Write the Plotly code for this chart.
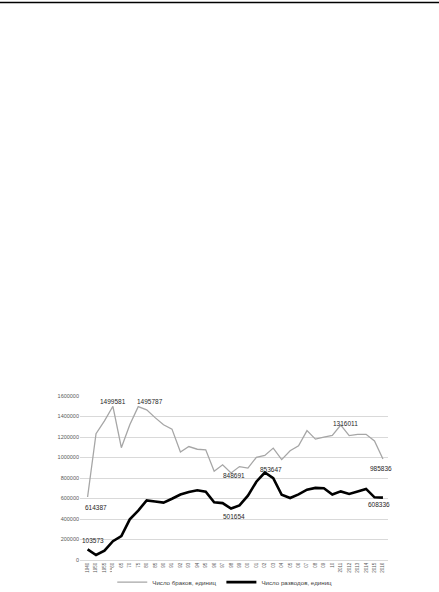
import plotly.graph_objects as go

# Years on the category axis
years = ['1940', '1950', '1955', '1960', '1965', '1970', '1975', '1980', '1985',
         '1990', '1991', '1992', '1993', '1994', '1995', '1996', '1997', '1998',
         '1999', '2000', '2001', '2002', '2003', '2004', '2005', '2006', '2007',
         '2008', '2009', '2010', '2011', '2012', '2013', '2014', '2015', '2016']

# Число браков
marriages = [614387, 1233000, 1357000, 1499581, 1096000, 1319000, 1495787, 1464600,
             1389000, 1319900, 1277200, 1053700, 1106700, 1080600, 1075200, 866700,
             928400, 848691, 911200, 897300, 1001600, 1019800, 1091800, 979700,
             1066400, 1113600, 1262500, 1179000, 1199400, 1215100, 1316011, 1213600,
             1225500, 1226000, 1161100, 985836]

# Число разводов
divorces = [103573, 49000, 91000, 184000, 233000, 396600, 482000, 580700,
            571000, 559900, 597900, 639200, 663300, 680500, 665900, 562400,
            555200, 501654, 532500, 627700, 763500, 853647, 798800, 635800,
            604900, 640800, 685900, 703400, 699400, 639300, 669400, 644100,
            668000, 693700, 611600, 608336]

# labelled points: (year, xshift, yshift)
labels_m = [('1940', 8, -10), ('1960', 0, 5), ('1975', 12, 5),
            ('1998', 3, -2), ('2011', 5, 2), ('2016', -2, -10)]
labels_d = [('1940', 5, 9), ('1998', 3, -8), ('2002', 6, 3), ('2016', -4, -7)]

fig = go.Figure()
fig.add_trace(go.Scatter(x=years, y=marriages, mode='lines',
                         name='Число браков, единиц',
                         line=dict(color='#a6a6a6', width=1.3)))
fig.add_trace(go.Scatter(x=years, y=divorces, mode='lines',
                         name='Число разводов, единиц',
                         line=dict(color='#000000', width=2.6)))

for series, labels in ((marriages, labels_m), (divorces, labels_d)):
    for yr, dx, dy in labels:
        i = years.index(yr)
        # category axis: annotation x is the category's serial number
        fig.add_annotation(x=i, y=series[i], text=str(series[i]), showarrow=False,
                           xshift=dx, yshift=dy,
                           font=dict(size=6.5, color='#262626'))

# thin rule across the top of the page
fig.add_shape(type='line', xref='paper', yref='paper',
              x0=-0.27, x1=1.17, y0=3.40, y1=3.40,
              line=dict(color='#000000', width=1.5))

fig.update_layout(
    width=439, height=592,
    margin=dict(l=80, r=51, t=396, b=32, autoexpand=False),
    paper_bgcolor='white', plot_bgcolor='white',
    font=dict(family='Liberation Sans, Arial, sans-serif', color='#595959'),
    showlegend=True,
    legend=dict(orientation='h', x=0.47, xanchor='center', y=-0.135,
                yanchor='middle', font=dict(size=6.2, color='#404040'),
                itemwidth=30, tracegroupgap=0),
)
fig.update_xaxes(type='category', range=[-0.9, 35.6], tickangle=-90,
                 tickmode='array', tickvals=years, ticktext=years,
                 tickfont=dict(size=4.5), showgrid=False, showline=True,
                 linecolor='#d9d9d9', linewidth=0.8, ticks='')
fig.update_yaxes(range=[0, 1600000], dtick=200000, tickformat='d',
                 tickfont=dict(size=5.5), showgrid=True, gridcolor='#d9d9d9',
                 gridwidth=0.8, zeroline=False, showline=False, ticks='')

# drop the page's default body margin so the figure sits at the top-left corner
fig.write_html("out.html", config={'displayModeBar': False},
               post_script="document.body.style.margin='0';")
